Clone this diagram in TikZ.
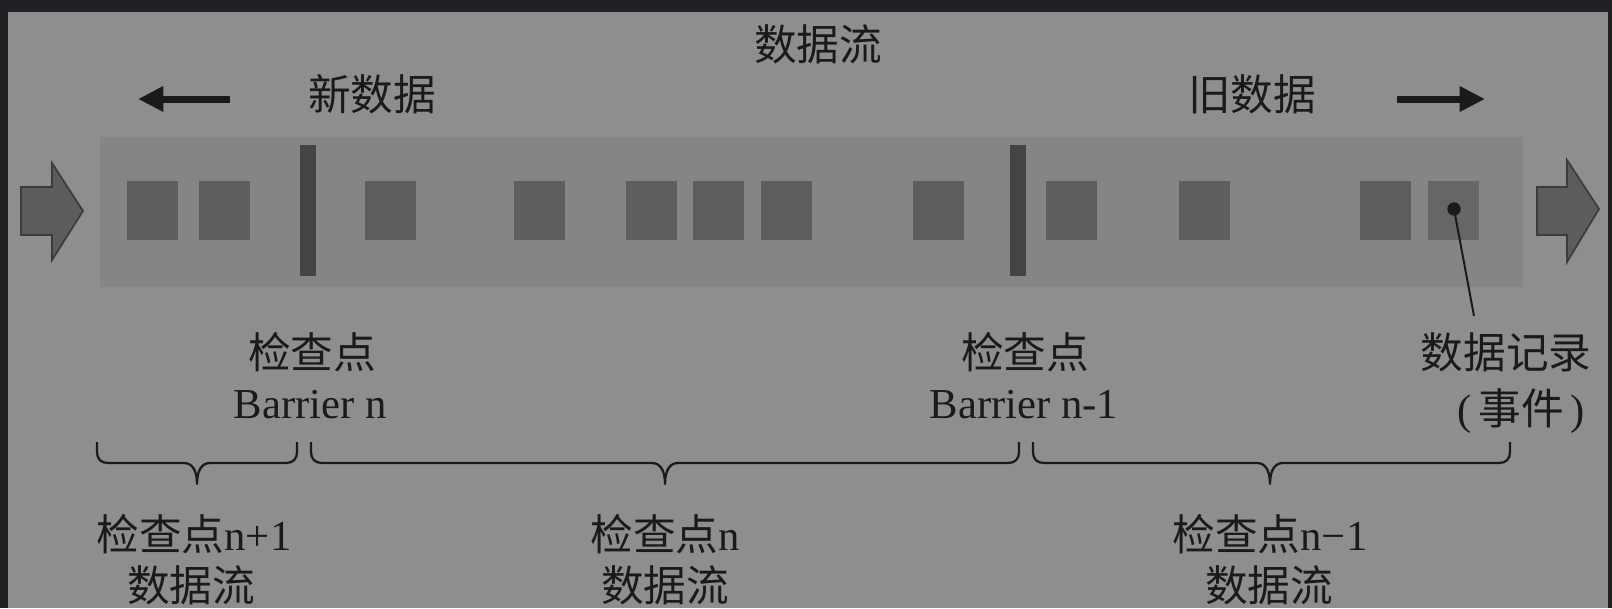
\documentclass[tikz,border=0pt]{standalone}
\usepackage{fontspec}
\setmainfont{Liberation Serif}
\newfontfamily\cjk{Noto Sans CJK SC}
\usetikzlibrary{arrows.meta}
\definecolor{frame}{HTML}{202124}
\definecolor{bggray}{HTML}{8E8E8E}
\definecolor{bandgray}{HTML}{858585}
\definecolor{sqgray}{HTML}{5E5E5E}
\definecolor{sqlight}{HTML}{666666}
\definecolor{bargray}{HTML}{444444}
\definecolor{inkc}{HTML}{1A1A1A}
\definecolor{bigfill}{HTML}{5C5C5C}
\tikzset{
  sq/.style={rectangle, fill=sqgray, draw=none, minimum width=38.25pt, minimum height=44.25pt, inner sep=0pt},
  barbox/.style={rectangle, fill=bargray, draw=none, minimum width=12pt, minimum height=98.25pt, inner sep=0pt},
  lbl/.style={text=inkc, inner sep=0pt, font=\fontsize{32pt}{38pt}\selectfont},
  bigarrow/.style={fill=bigfill, draw=inkc!85, line width=1.3pt, line join=miter},
  smallarrow/.style={draw=inkc, line width=5.25pt, -{Triangle[length=19pt, width=18pt]}},
  bracestyle/.style={draw=inkc, line width=1.7pt, line join=round},
}
% custom brace: left x, tip x, right x
\newcommand\drawbrace[3]{%
  \draw[bracestyle] (#1,442) -- (#1,452) .. controls (#1,459) and (#1+4,463) .. (#1+11,463)
    -- (#2-13,463) .. controls (#2-5,463) and (#2,470) .. (#2,484)
    .. controls (#2,470) and (#2+5,463) .. (#2+13,463)
    -- (#3-11,463) .. controls (#3-4,463) and (#3,459) .. (#3,452) -- (#3,442);}
\begin{document}
\begin{tikzpicture}[x=0.75pt, y=-0.75pt]
\useasboundingbox (0,0) rectangle (1612,608);
\fill[frame] (0,0) rectangle (1612,608);
\fill[bggray] (8,12) rectangle (1608,608);
% band
\fill[bandgray] (100,137) rectangle (1523,287);
% squares
\node[sq] (s1) at (152.5,210.5) {};
\node[sq] (s2) at (224,210.5) {};
\node[sq] (s3) at (390.5,210.5) {};
\node[sq] (s4) at (539.5,210.5) {};
\node[sq] (s5) at (651,210.5) {};
\node[sq] (s6) at (718.5,210.5) {};
\node[sq] (s7) at (786,210.5) {};
\node[sq] (s8) at (938,210.5) {};
\node[sq] (s9) at (1071.5,210.5) {};
\node[sq] (s10) at (1204,210.5) {};
\node[sq] (s11) at (1385,210.5) {};
\node[sq, fill=sqlight] (s12) at (1453,210.5) {};
% barriers
\node[barbox] (bar1) at (308,210.5) {};
\node[barbox] (bar2) at (1018,210.5) {};
% big arrows
\draw[bigarrow] (21,187) -- (52,187) -- (52,163) -- (83,211) -- (52,260) -- (52,235) -- (21,235) -- cycle;
\draw[bigarrow] (1537,187) -- (1567,187) -- (1567,160) -- (1599,209) -- (1567,262) -- (1567,235) -- (1537,235) -- cycle;
% small arrows
\coordinate (la1) at (230,99);
\coordinate (la2) at (138,99);
\coordinate (ra1) at (1397,99);
\coordinate (ra2) at (1485,99);
\draw[smallarrow] (la1) -- (la2);
\draw[smallarrow] (ra1) -- (ra2);
% texts top
\node[lbl] (title) at (818,44) {\cjk 数据流};
\node[lbl] (newd) at (372,94) {\cjk 新数据};
\node[lbl] (oldd) at (1252,94) {\cjk 旧数据};
% checkpoint labels
\node[lbl] (cp1) at (312,352) {\cjk 检查点};
\node[lbl] (b1) at (310,405) {Barrier n};
\node[lbl] (cp2) at (1025,352) {\cjk 检查点};
\node[lbl] (b2) at (1024,405) {Barrier n-1};
% data record
\node[lbl] (rec) at (1506,352) {\cjk 数据记录};
\node[lbl] (evt) at (1521,411) {(\,{\cjk 事件}\,)};
\node[circle, fill=inkc, minimum size=10pt, inner sep=0pt] (dot) at (1454,209) {};
\coordinate (recend) at (1474,316);
\draw[inkc, line width=1.5pt] (dot.center) -- (recend);
% braces
\drawbrace{97}{197}{297}
\drawbrace{311}{665}{1019}
\drawbrace{1033}{1270}{1510}
% bottom labels
\node[lbl] (g1a) at (194,534) {{\cjk 检查点}n+1};
\node[lbl] (g1b) at (191,585) {\cjk 数据流};
\node[lbl] (g2a) at (665,534) {{\cjk 检查点}n};
\node[lbl] (g2b) at (665,585) {\cjk 数据流};
\node[lbl] (g3a) at (1270,534) {{\cjk 检查点}n−1};
\node[lbl] (g3b) at (1269,585) {\cjk 数据流};
\end{tikzpicture}
\end{document}
